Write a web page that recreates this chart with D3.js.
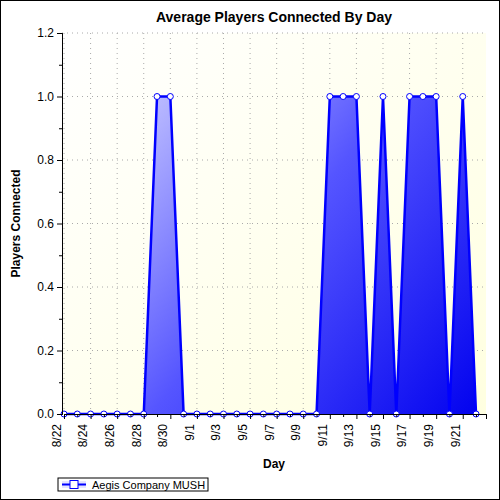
<!DOCTYPE html>
<html><head><meta charset="utf-8">
<script src="https://cdn.jsdelivr.net/npm/d3@7"></script>
<style>body{margin:0}text{font-family:"Liberation Sans",Arial,sans-serif}</style>
</head><body><svg id="c" width="500" height="500"></svg>
<script>
const days = d3.range(0, 32).map(i => new Date(2023, 7, 22 + i));
const players = [0,0,0,0,0,0,0,1,1,0,0,0,0,0,0,0,0,0,0,0,1,1,1,0,1,0,1,1,1,0,1,0];
const yTicks = [0,0.2,0.4,0.6,0.8,1.0,1.2];
const series = "Aegis Company MUSH";

const svg = d3.select('#c');
const m = {l: 62, r: 486, t: 33, b: 414};
const defs = svg.append('defs');
const bg = defs.append('linearGradient').attr('id','bg').attr('x1',0).attr('y1',0).attr('x2',1).attr('y2',1);
bg.append('stop').attr('offset',0).attr('stop-color','#ffffff');
bg.append('stop').attr('offset',1).attr('stop-color','#ffffe0');
const ar = defs.append('linearGradient').attr('id','ar').attr('gradientUnits','userSpaceOnUse')
  .attr('x1',m.l).attr('y1',m.t+60).attr('x2',m.r).attr('y2',m.b);
ar.append('stop').attr('offset',0).attr('stop-color','#e4e4ff');
ar.append('stop').attr('offset',0.5).attr('stop-color','#5555ff');
ar.append('stop').attr('offset',1).attr('stop-color','#0000ee');

svg.append('rect').attr('x',0.5).attr('y',0.5).attr('width',499).attr('height',499).attr('fill','#fff').attr('stroke','#000');

const x = d3.scaleTime().domain([days[0], new Date(+days[31] + 0.75 * 864e5)]).range([m.l+2, m.r]);
const y = d3.scaleLinear().domain([0,1.2]).range([m.b, m.t]);

svg.append('rect').attr('x',m.l).attr('y',m.t).attr('width',m.r-m.l).attr('height',m.b-m.t).attr('fill','url(#bg)');

const labelDays = days.filter((d,i) => i % 2 === 0);
const g = svg.append('g');
g.selectAll('.gy').data(yTicks.slice(1)).join('line').attr('x1',m.l).attr('x2',m.r)
  .attr('y1',d=>y(d)).attr('y2',d=>y(d)).attr('stroke','#aaa').attr('stroke-dasharray','1,4');
g.selectAll('.gx').data(labelDays).join('line').attr('y1',m.t).attr('y2',m.b)
  .attr('x1',d=>x(d)).attr('x2',d=>x(d)).attr('stroke','#aaa').attr('stroke-dasharray','1,4');

svg.append('path').datum(players).attr('fill','url(#ar)')
  .attr('d', d3.area().x((d,i)=>x(days[i])).y0(y(0)).y1(d=>y(d)));
svg.append('path').datum(players).attr('fill','none').attr('stroke','#0000ff').attr('stroke-width',2.5)
  .attr('d', d3.line().x((d,i)=>x(days[i])).y(d=>y(d)));
svg.selectAll('.pt').data(players).join('circle').attr('cx',(d,i)=>x(days[i])).attr('cy',d=>y(d))
  .attr('r',3).attr('fill','#fff').attr('stroke','#0000ff').attr('stroke-width',1);

const ya = svg.append('g').attr('transform',`translate(${m.l},0)`)
  .call(d3.axisLeft(y).tickValues(yTicks).tickFormat(d3.format('.1f')).tickSize(5));
ya.append('g').call(d3.axisLeft(y).tickValues(d3.range(0.1,1.2,0.2)).tickFormat('').tickSize(3));
ya.selectAll('text').attr('font-size',12).attr('fill','#000');

const xa = svg.append('g').attr('transform',`translate(0,${m.b})`)
  .call(d3.axisBottom(x).tickValues(labelDays).tickFormat(d3.timeFormat('%-m/%-d')).tickSize(5));
xa.append('g').call(d3.axisBottom(x).tickValues(days.filter((d,i)=>i%2)).tickFormat('').tickSize(3));
xa.selectAll('text').attr('font-size',12).attr('fill','#000')
  .attr('transform','rotate(-90)').attr('text-anchor','end').attr('dx','-0.5em').attr('dy','-0.3em').attr('y',0).attr('x',-4);
svg.selectAll('.domain').attr('stroke','#000');

svg.append('text').attr('x',(m.l+m.r)/2).attr('y',22).attr('text-anchor','middle')
  .attr('font-size',14).attr('font-weight','bold').text('Average Players Connected By Day');
svg.append('text').attr('x',(m.l+m.r)/2).attr('y',468).attr('text-anchor','middle')
  .attr('font-size',12).attr('font-weight','bold').text('Day');
svg.append('text').attr('transform',`translate(20,${(m.t+m.b)/2}) rotate(-90)`).attr('text-anchor','middle')
  .attr('font-size',12).attr('font-weight','bold').text('Players Connected');

const lg = svg.append('g').attr('transform','translate(58,478)');
lg.append('rect').attr('width',150).attr('height',13).attr('fill','#fff').attr('stroke','#000');
lg.append('rect').attr('x',4).attr('y',3).attr('width',24).attr('height',7).attr('fill','url(#ar)');
lg.append('line').attr('x1',4).attr('x2',28).attr('y1',6.5).attr('y2',6.5).attr('stroke','#00f').attr('stroke-width',2);
lg.append('rect').attr('x',12).attr('y',2.5).attr('width',8).attr('height',8).attr('fill','#fff').attr('stroke','#00f');
lg.append('text').attr('x',34).attr('y',10.5).attr('font-size',11).text(series);
</script></body></html>
